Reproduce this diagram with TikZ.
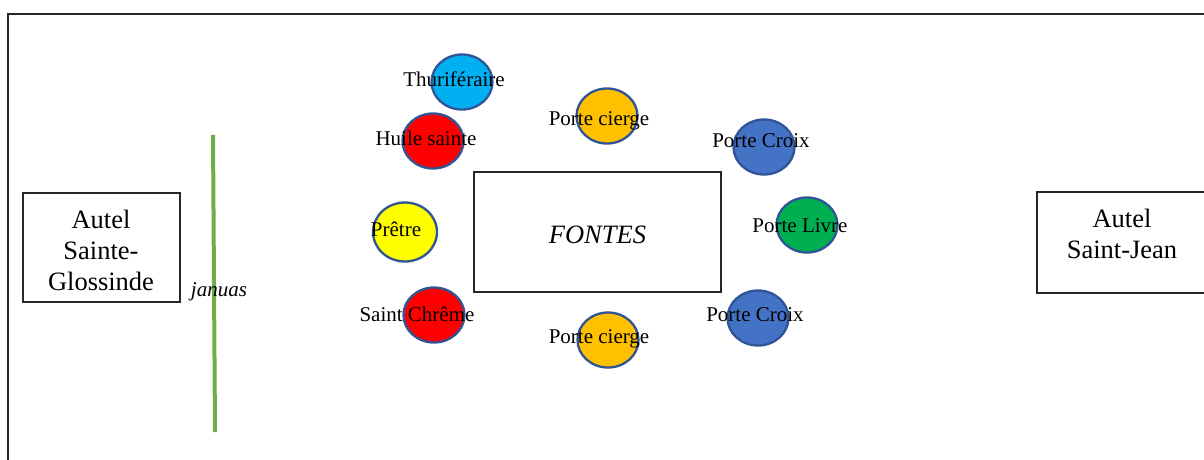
\documentclass[tikz,border=0pt]{standalone}
\usepackage{fontspec}
\setmainfont{Liberation Serif}
\usetikzlibrary{shapes.geometric}
\definecolor{edgeblue}{HTML}{2F5597}
\definecolor{cyanf}{HTML}{00B0F0}
\definecolor{redf}{HTML}{FF0000}
\definecolor{orangef}{HTML}{FFC000}
\definecolor{bluef}{HTML}{4472C4}
\definecolor{yellowf}{HTML}{FFFF00}
\definecolor{greenf}{HTML}{00B050}
\definecolor{linegreen}{HTML}{70AD47}
\definecolor{framegray}{HTML}{262626}
\tikzset{
  person/.style={ellipse, draw=edgeblue, line width=2.3pt, minimum width=61pt, minimum height=55pt, inner sep=0pt},
  lbl/.style={anchor=base, inner sep=0pt, font=\fontsize{21}{24}\selectfont},
  bigtxt/.style={anchor=base, inner sep=0pt, font=\fontsize{26.5}{31}\selectfont},
  boxstyle/.style={draw=framegray, line width=1.3pt, inner sep=0pt}
}
\begin{document}
\begin{tikzpicture}[x=1pt,y=-1pt]
\useasboundingbox (0,0) rectangle (1204,459);
% outer frame
\coordinate (fbl) at (8,462);
\coordinate (ftl) at (8,14);
\coordinate (ftr) at (1207,14);
\draw[framegray, line width=1.2pt] (fbl) -- (ftl) -- (ftr);
% altars
\node[boxstyle, minimum width=157pt, minimum height=109pt] (altarL) at (101.5,247.5) {};
\node[bigtxt] (altarLa) at (101,228) {Autel};
\node[bigtxt] (altarLb) at (101,259) {Sainte-};
\node[bigtxt] (altarLc) at (101,290) {Glossinde};
\node[boxstyle, minimum width=172pt, minimum height=101pt] (altarR) at (1123,242.5) {};
\node[bigtxt] (altarRa) at (1122,227) {Autel};
\node[bigtxt] (altarRb) at (1122,258) {Saint-Jean};
% fonts
\node[boxstyle, minimum width=247pt, minimum height=120pt] (fontes) at (597.5,232) {};
\node[bigtxt, font=\fontsize{26.5}{31}\selectfont\itshape] (fontestxt) at (597.5,243) {FONTES};
% januas line
\coordinate (ja) at (213,135);
\coordinate (jb) at (215,432);
\draw[linegreen, line width=4pt] (ja) -- (jb);
\node[lbl, font=\fontsize{21}{24}\selectfont\itshape] (januas) at (219,296) {januas};
% persons
\node[person, fill=cyanf] (thu) at (462,82) {};
\node[lbl] (thut) at (454,86) {Thuriféraire};
\node[person, fill=redf] (huile) at (433,141) {};
\node[lbl] (huilet) at (426,145) {Huile sainte};
\node[person, fill=orangef] (pc1) at (607,116) {};
\node[lbl] (pc1t) at (599,125) {Porte cierge};
\node[person, fill=bluef] (px1) at (764,147) {};
\node[lbl] (px1t) at (761,147) {Porte Croix};
\node[person, fill=yellowf, minimum width=64pt, minimum height=59pt] (pretre) at (405,232) {};
\node[lbl] (pretret) at (396,236) {Prêtre};
\node[person, fill=greenf] (livre) at (807,225) {};
\node[lbl] (livret) at (800,232) {Porte Livre};
\node[person, fill=redf] (chreme) at (434,315) {};
\node[lbl] (chremet) at (417,321) {Saint Chrême};
\node[person, fill=orangef] (pc2) at (608,340) {};
\node[lbl] (pc2t) at (599,343) {Porte cierge};
\node[person, fill=bluef] (px2) at (758,318) {};
\node[lbl] (px2t) at (755,321) {Porte Croix};
\end{tikzpicture}
\end{document}
